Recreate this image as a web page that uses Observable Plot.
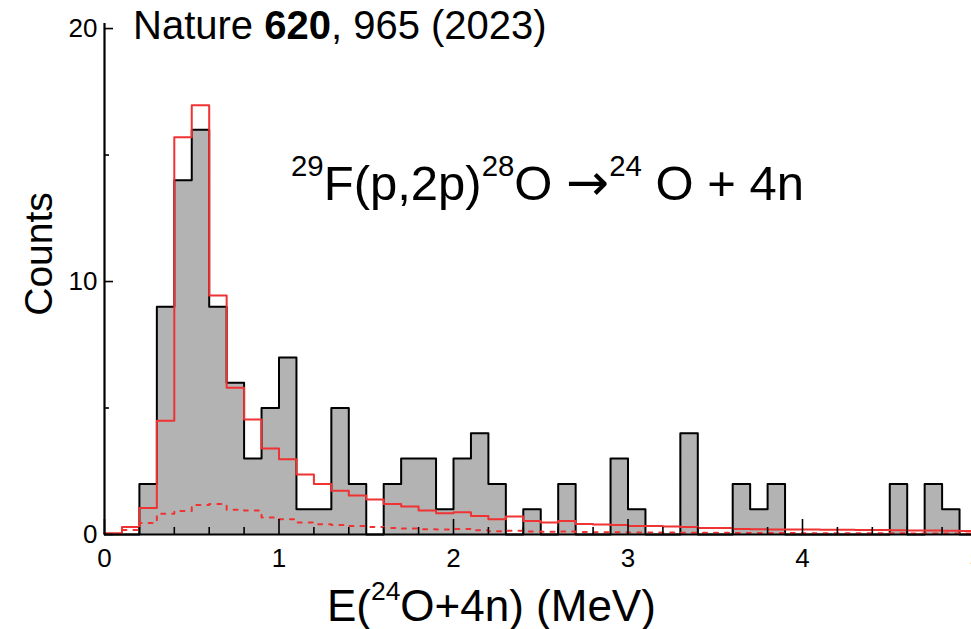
<!DOCTYPE html>
<html>
<head>
<meta charset="utf-8">
<script src="https://cdn.jsdelivr.net/npm/d3@7"></script>
<script src="https://cdn.jsdelivr.net/npm/@observablehq/plot@0.6"></script>
<style>
  html, body { margin: 0; padding: 0; overflow: hidden; background: #fff; }
  #wrap { position: relative; width: 971px; height: 629px; overflow: hidden;
          font-family: "Liberation Sans", Arial, Helvetica, sans-serif; }
  #wrap svg { max-width: none !important; display: block; }
  .ov { position: absolute; white-space: nowrap; line-height: 1; color: #000; }
  .ov sup { font-size: 0.6em; line-height: 0; vertical-align: baseline; position: relative; top: -0.8em; }
  .arrow { font-family: "DejaVu Sans", sans-serif; font-size: 1.05em; }
</style>
</head>
<body>
<div id="wrap">
  <div id="chart"></div>
  <div class="ov" id="title" style="left:133px; top:5px; font-size:40px;">Nature <b>620</b>, 965 (2023)</div>
  <div class="ov" id="reaction" style="left:291px; top:157px; font-size:49px;"><sup>29</sup>F(p,2p)<sup>28</sup>O <span class="arrow">→</span><sup>24</sup> O + 4n</div>
  <div class="ov" id="xlabel" style="left:327px; top:584px; font-size:44px;">E(<sup>24</sup>O+4n) (MeV)</div>
</div>
<script>
// ---- data ----
const binStart = [0.0,0.1,0.2,0.3,0.4,0.5,0.6,0.7,0.8,0.9,
                  1.0,1.1,1.2,1.3,1.4,1.5,1.6,1.7,1.8,1.9,
                  2.0,2.1,2.2,2.3,2.4,2.5,2.6,2.7,2.8,2.9,
                  3.0,3.1,3.2,3.3,3.4,3.5,3.6,3.7,3.8,3.9,
                  4.0,4.1,4.2,4.3,4.4,4.5,4.6,4.7,4.8,4.9];
const binWidth = 0.1;
const counts = [0,0,2,9,14,16,9,6,3,5,
                7,1,1,5,2,0,2,3,3,1,
                3,4,2,0,1,0,2,0,0,3,
                1,0,0,4,0,0,2,1,2,0,
                0,0,0,0,0,2,0,2,1,0];
const fitTotal = [0.05,0.3,1.05,4.5,15.7,16.97,9.45,5.8,4.55,3.4,
                  2.97,2.37,2.0,1.73,1.54,1.38,1.21,1.11,0.95,0.84,
                  0.88,0.73,0.6,0.71,0.53,0.47,0.53,0.42,0.4,0.38,
                  0.34,0.34,0.32,0.3,0.26,0.26,0.22,0.21,0.2,0.2,
                  0.2,0.19,0.19,0.18,0.18,0.17,0.16,0.16,0.15,0.14];
const fitBackground = [0.02,0.18,0.45,0.82,0.93,1.17,1.21,0.98,0.95,0.67,
                       0.6,0.47,0.41,0.38,0.34,0.3,0.26,0.24,0.21,0.2,
                       0.22,0.17,0.13,0.15,0.12,0.11,0.12,0.1,0.09,0.09,
                       0.08,0.08,0.08,0.07,0.07,0.07,0.06,0.06,0.06,0.06,
                       0.05,0.05,0.05,0.05,0.05,0.05,0.04,0.04,0.04,0.04];
const xMajorTicks = [0,1,2,3,4,5];
const xMinorTicks = [0.2,0.4,0.6,0.8,1.2,1.4,1.6,1.8,2.2,2.4,2.6,2.8,3.2,3.4,3.6,3.8,4.2,4.4,4.6,4.8];
const yMajorTicks = [0,10,20];
const yMinorTicks = [5,15];

// ---- layout ----
const W = 990, H = 629, mL = 104, mR = 13.5, mT = 23, mB = 95;
const xDomain = [0, 5], yDomain = [0, 20.2];
const pxPerCount = (H - mT - mB) / (yDomain[1] - yDomain[0]);
const pxPerMeV = (W - mL - mR) / (xDomain[1] - xDomain[0]);
const font = "Liberation Sans, Arial, Helvetica, sans-serif";
const red = "#ef3232";

const idx = counts.map((_, i) => i);
const stepPts = (vals) => idx.map(i => ({x: binStart[i], y: vals[i]}))
  .concat([{x: binStart[binStart.length - 1] + binWidth, y: vals[vals.length - 1]}]);

const chart = Plot.plot({
  width: W, height: H,
  marginLeft: mL, marginRight: mR, marginTop: mT, marginBottom: mB,
  style: {fontFamily: font, background: "white", color: "black"},
  x: {domain: xDomain},
  y: {domain: yDomain},
  marks: [
    Plot.areaY(stepPts(counts), {x: "x", y: "y", curve: "step-after", fill: "#b3b3b3"}),
    Plot.line(stepPts(counts), {x: "x", y: "y", curve: "step-after", stroke: "black", strokeWidth: 2}),
    Plot.line(stepPts(fitBackground), {x: "x", y: "y", curve: "step-after", stroke: red, strokeWidth: 2, strokeDasharray: "4,7"}),
    Plot.line(stepPts(fitTotal), {x: "x", y: "y", curve: "step-after", stroke: red, strokeWidth: 2}),
    // inward ticks
    Plot.ruleX(xMajorTicks, {x: d => d, y1: 0, y2: 15 / pxPerCount, stroke: "black", strokeWidth: 1.6}),
    Plot.ruleX(xMinorTicks, {x: d => d, y1: 0, y2: 7 / pxPerCount, stroke: "black", strokeWidth: 1.6}),
    Plot.ruleY(yMajorTicks, {y: d => d, x1: 0, x2: 9 / pxPerMeV, stroke: "black", strokeWidth: 1.6}),
    Plot.ruleY(yMinorTicks, {y: d => d, x1: 0, x2: 5 / pxPerMeV, stroke: "black", strokeWidth: 1.6}),
    // axis lines
    Plot.ruleY([0], {stroke: "black", strokeWidth: 2.2}),
    Plot.ruleX([0], {stroke: "black", strokeWidth: 2.2}),
    // tick labels
    Plot.axisX({ticks: xMajorTicks, tickSize: 0, tickPadding: 14, fontSize: 26, label: null, tickFormat: d => String(d)}),
    Plot.axisY({ticks: yMajorTicks, tickSize: 0, tickPadding: 7, fontSize: 26, label: null, anchor: "left", tickFormat: d => String(d)}),
    // y label
    Plot.text(["Counts"], {text: d => d, frameAnchor: "left", textAnchor: "middle", rotate: -90, dx: -64.5, dy: -25, fontSize: 39})
  ]
});
document.getElementById("chart").appendChild(chart);
</script>
</body>
</html>
